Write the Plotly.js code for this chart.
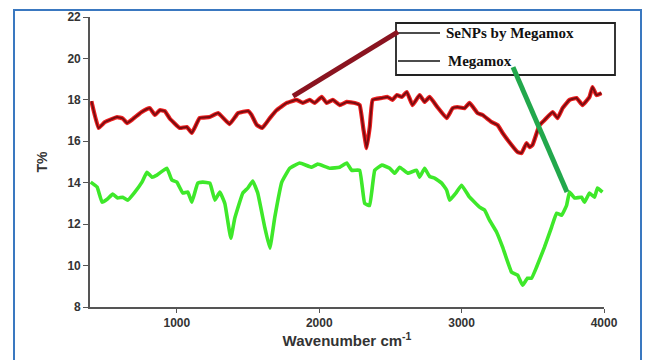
<!DOCTYPE html>
<html>
<head>
<meta charset="utf-8">
<script src="https://cdn.plot.ly/plotly-3.0.1.min.js"></script>
<style>html,body{margin:0;padding:0;background:#fff;}#chart{width:650px;height:360px;}</style>
</head>
<body>
<div id="chart"></div>
<script>
// SeNPs by Megamox (red)
const redX = [400,450,495,580,620,650,690,750,790,810,846,880,915,950,1020,1070,1105,1160,1230,1290,1370,1430,1500,1525,1560,1600,1653,1700,1772,1842,1885,1933,1968,2017,2053,2095,2144,2193,2250,2284,2310,2333,2355,2375,2440,2480,2515,2545,2580,2615,2655,2705,2740,2775,2830,2895,2937,2970,3021,3056,3112,3147,3210,3253,3288,3351,3393,3421,3456,3477,3498,3547,3582,3639,3674,3709,3758,3807,3849,3898,3919,3947,3982];
const redY = [17.94,16.64,16.93,17.17,17.1,16.88,17.07,17.4,17.56,17.6,17.27,17.5,17.46,17.1,16.64,16.69,16.4,17.12,17.17,17.36,16.83,17.36,17.46,17.27,16.8,16.64,17.12,17.5,17.85,18.0,17.85,18.0,17.85,18.14,17.85,18.0,17.75,17.9,17.85,17.75,16.6,15.67,16.7,18.0,18.09,18.14,18.0,18.23,18.14,18.38,17.75,18.23,17.9,18.14,17.65,17.12,17.6,17.65,17.6,17.85,17.36,17.27,16.93,16.78,16.4,15.82,15.48,15.43,15.91,15.72,15.82,16.78,17.02,17.41,17.12,17.6,18.0,18.09,17.75,18.14,18.62,18.23,18.33];
// Megamox (green)
const greenX = [395,440,475,510,550,585,620,655,705,755,790,825,860,930,965,1000,1042,1077,1105,1147,1182,1232,1267,1302,1337,1379,1407,1463,1498,1533,1568,1617,1653,1688,1737,1793,1863,1947,1989,2074,2144,2193,2228,2284,2319,2354,2390,2440,2495,2530,2565,2621,2684,2705,2740,2775,2810,2860,2895,2916,2965,3000,3056,3126,3161,3196,3246,3288,3351,3393,3428,3463,3491,3526,3582,3632,3667,3702,3737,3758,3793,3842,3863,3898,3933,3954,3989];
const greenY = [14.03,13.79,13.06,13.2,13.45,13.26,13.3,13.16,13.55,14.03,14.5,14.27,14.37,14.7,14.13,14.03,13.5,13.55,13.06,13.98,14.03,13.98,13.16,13.55,13.0,11.32,12.29,13.5,13.74,14.08,13.5,11.86,10.84,12.34,14.03,14.7,14.95,14.75,14.9,14.7,14.75,14.95,14.6,14.6,13.0,12.9,14.6,14.85,14.7,14.46,14.75,14.46,14.6,14.27,14.7,14.3,14.22,13.98,13.64,13.16,13.55,13.88,13.3,12.82,12.68,12.19,11.61,10.89,9.68,9.54,9.05,9.39,9.39,9.92,10.89,11.86,12.53,12.43,12.9,13.55,13.26,13.3,13.06,13.5,13.3,13.74,13.55];
const seriesNames = ["SeNPs by Megamox", "Megamox"];
const xTicks = [1000, 2000, 3000, 4000];
const yTicks = [8, 10, 12, 14, 16, 18, 20, 22];

const traces = [
  {x: redX, y: redY, mode: 'lines', name: seriesNames[0], line: {color: '#ee2020', width: 4.2, shape: 'spline', smoothing: 0.3}},
  {x: redX, y: redY, mode: 'lines', name: seriesNames[0], line: {color: '#7a0c10', width: 2, shape: 'spline', smoothing: 0.3}},
  {x: greenX, y: greenY, mode: 'lines', name: seriesNames[1], line: {color: '#3ee82a', width: 3.6, shape: 'spline', smoothing: 0.3}}
];

const axFont = {family: 'Arial, Liberation Sans, sans-serif', size: 12, color: '#333'};
const layout = {
  width: 650, height: 360,
  margin: {l: 90, r: 46, t: 17, b: 53},
  paper_bgcolor: '#fff', plot_bgcolor: '#fff',
  showlegend: false,
  xaxis: {
    range: [390, 4000], tickvals: xTicks, ticktext: xTicks.map(v => '<b>' + v + '</b>'),
    showgrid: false, zeroline: false, showline: true, linecolor: '#555', linewidth: 1.8,
    ticks: 'outside', ticklen: 4, tickcolor: '#555', tickfont: axFont,
    title: {text: '<b>Wavenumber cm<sup>-1</sup></b>', font: {family: 'Arial, Liberation Sans, sans-serif', size: 15, color: '#333'}, standoff: 6}
  },
  yaxis: {
    range: [8, 22], tickvals: yTicks, ticktext: yTicks.map(v => '<b>' + v + '</b>'),
    showgrid: false, zeroline: false, showline: true, linecolor: '#555', linewidth: 1.8,
    ticks: 'outside', ticklen: 5, tickcolor: '#555', tickfont: axFont,
    title: {text: '<b>T%</b>', font: {family: 'Arial, Liberation Sans, sans-serif', size: 14, color: '#333'}, standoff: 16}
  },
  shapes: [
    // outer blue frame
    {type: 'rect', xref: 'paper', yref: 'paper', x0: (14-90)/514, x1: (641-90)/514, y0: (307-362)/290, y1: (307-10)/290, line: {color: '#3a78c0', width: 2}, fillcolor: 'rgba(0,0,0,0)', layer: 'below'},
    // legend box
    {type: 'rect', xref: 'paper', yref: 'paper', x0: (396-90)/514, x1: (615-90)/514, y0: (307-75)/290, y1: (307-23)/290, line: {color: '#222', width: 1.8}, fillcolor: '#fff'},
    {type: 'line', xref: 'paper', yref: 'paper', x0: (398-90)/514, x1: (440-90)/514, y0: (307-33)/290, y1: (307-33)/290, line: {color: '#111', width: 1.4}},
    {type: 'line', xref: 'paper', yref: 'paper', x0: (398-90)/514, x1: (440-90)/514, y0: (307-61)/290, y1: (307-61)/290, line: {color: '#111', width: 1.4}},
    // pointer lines
    {type: 'line', xref: 'x', yref: 'y', x0: 1816, y0: 18.18, x1: 2553, y1: 21.28, line: {color: '#8a1420', width: 5}},
    {type: 'line', xref: 'x', yref: 'y', x0: 3361, y0: 19.58, x1: 3740, y1: 13.55, line: {color: '#22a84c', width: 5}}
  ],
  annotations: [
    {xref: 'paper', yref: 'paper', x: (444-90)/514, y: (307-33)/290, xanchor: 'left', yanchor: 'middle', showarrow: false, text: '<b>' + seriesNames[0] + '</b>', font: {family: 'Liberation Serif, Times New Roman, serif', size: 15, color: '#111'}},
    {xref: 'paper', yref: 'paper', x: (446-90)/514, y: (307-61)/290, xanchor: 'left', yanchor: 'middle', showarrow: false, text: '<b>' + seriesNames[1] + '</b>', font: {family: 'Liberation Serif, Times New Roman, serif', size: 15, color: '#111'}}
  ]
};
Plotly.newPlot('chart', traces, layout, {staticPlot: true, displayModeBar: false});
</script>
</body>
</html>
